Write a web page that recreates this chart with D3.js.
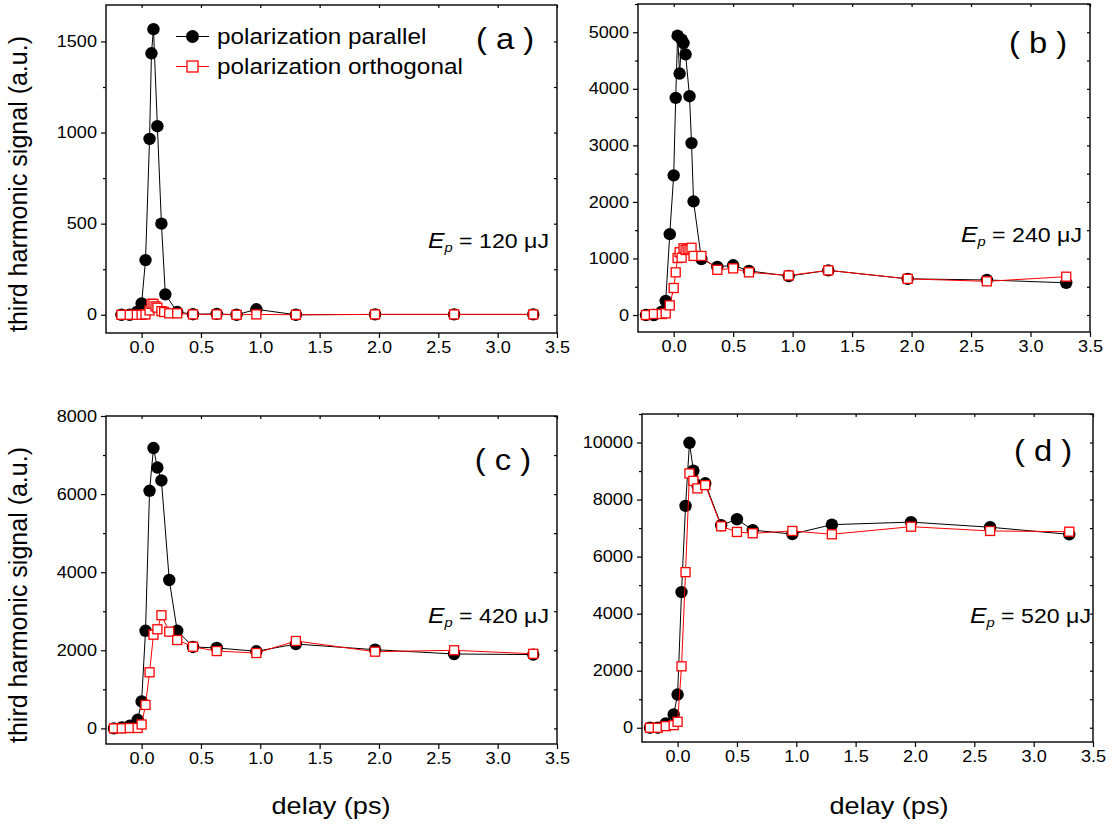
<!DOCTYPE html>
<html>
<head>
<meta charset="utf-8">
<script src="https://cdn.jsdelivr.net/npm/d3@7"></script>
<style>
  html, body { margin: 0; padding: 0; background: #fff; }
  svg { display: block; font-family: "Liberation Sans", Arial, sans-serif; }
</style>
</head>
<body>
<svg id="chart" width="1112" height="827"></svg>
<script>
// ---------------- DATA ----------------
const seriesNames = ["polarization parallel", "polarization orthogonal"];
const panelLabels = ["( a )", "( b )", "( c )", "( d )"];
const pulseEnergies = ["120", "240", "420", "520"];
const xTickValues = [0, 0.5, 1.0, 1.5, 2.0, 2.5, 3.0, 3.5];

// panel (a) Ep = 120 uJ
const delayA_par = [-0.17, -0.1, -0.04, 0.0, 0.033, 0.067, 0.083, 0.1, 0.133, 0.167, 0.2, 0.3, 0.433, 0.633, 0.8, 0.967, 1.3, 1.967, 2.633, 3.3];
const signalA_par = [0, 0, 15, 62, 300, 965, 1435, 1567, 1035, 500, 112, 15, 3, 5, 0, 30, 0, 2, 2, 2];
const delayA_ort = [-0.17, -0.1, -0.04, 0.0, 0.033, 0.067, 0.083, 0.1, 0.117, 0.133, 0.167, 0.19, 0.233, 0.3, 0.433, 0.633, 0.8, 0.967, 1.3, 1.967, 2.633, 3.3];
const signalA_ort = [0, 0, 0, 0, 2, 24, 60, 60, 46, 39, 20, 15, 8, 8, 2, 2, 0, 2, 0, 2, 2, 2];

// panel (b) Ep = 240 uJ
const delayB_par = [-0.233, -0.167, -0.1, -0.067, -0.033, 0.0, 0.017, 0.033, 0.05, 0.067, 0.083, 0.1, 0.133, 0.15, 0.167, 0.233, 0.367, 0.5, 0.633, 0.967, 1.3, 1.967, 2.633, 3.3];
const signalB_par = [0, 0, 60, 250, 1430, 2470, 3840, 4940, 4270, 4870, 4810, 4610, 3870, 3040, 2010, 990, 850, 880, 780, 690, 790, 640, 620, 570];
const delayB_ort = [-0.233, -0.167, -0.1, -0.067, -0.033, 0.0, 0.017, 0.033, 0.05, 0.067, 0.083, 0.1, 0.117, 0.133, 0.15, 0.167, 0.233, 0.367, 0.5, 0.633, 0.967, 1.3, 1.967, 2.633, 3.3];
const signalB_ort = [0, 18, 18, 29, 171, 478, 755, 1008, 1110, 1014, 1180, 1150, 1165, 1160, 1190, 1045, 1045, 800, 825, 755, 700, 790, 640, 596, 678];

// panel (c) Ep = 420 uJ
const delayC = [-0.233, -0.167, -0.1, -0.033, 0.0, 0.033, 0.067, 0.1, 0.133, 0.167, 0.233, 0.3, 0.433, 0.633, 0.967, 1.3, 1.967, 2.633, 3.3];
const signalC_par = [0, 25, 67, 220, 690, 2500, 6085, 7180, 6680, 6350, 3800, 2500, 2085, 2060, 1975, 2160, 2015, 1905, 1890];
const signalC_ort = [0, 0, 10, 10, 100, 600, 1436, 2400, 2538, 2897, 2477, 2263, 2090, 1980, 1930, 2238, 1964, 2000, 1910];

// panel (d) Ep = 520 uJ
const delayD = [-0.233, -0.167, -0.1, -0.033, 0.0, 0.033, 0.067, 0.1, 0.133, 0.167, 0.233, 0.367, 0.5, 0.633, 0.967, 1.3, 1.967, 2.633, 3.3];
const signalD_par = [0, 0, 150, 465, 1165, 4755, 7780, 9990, 9010, 8500, 8570, 7100, 7310, 6930, 6790, 7120, 7210, 7030, 6780];
const signalD_ort = [0, 0, 56, 91, 210, 2154, 5455, 8916, 8657, 8392, 8507, 7063, 6864, 6818, 6899, 6783, 7049, 6899, 6874];

const yTicksA = [0, 500, 1000, 1500];
const yTicksB = [0, 1000, 2000, 3000, 4000, 5000];
const yTicksC = [0, 2000, 4000, 6000, 8000];
const yTicksD = [0, 2000, 4000, 6000, 8000, 10000];

// ---------------- LAYOUT ----------------
const SX = 1.13; // horizontal stretch of the original typography
const svg = d3.select("#chart");
const zip = (xs, ys) => xs.map((d, i) => ({x: d, y: ys[i]}));

const panels = [
  {l: 106, r: 557, t: 5,   b: 333, yDom: [-100, 1700],  yTicks: yTicksA, yMinorStep: 250,
   par: zip(delayA_par, signalA_par), ort: zip(delayA_ort, signalA_ort),
   label: panelLabels[0], lx: 505, ly: 49, E: pulseEnergies[0], ex: 549, ey: 248, legend: true, yTitle: true},
  {l: 638, r: 1090, t: 4,  b: 332, yDom: [-300, 5500],  yTicks: yTicksB, yMinorStep: 500,
   par: zip(delayB_par, signalB_par), ort: zip(delayB_ort, signalB_ort),
   label: panelLabels[1], lx: 1038, ly: 53, E: pulseEnergies[1], ex: 1082, ey: 242},
  {l: 106, r: 557, t: 416, b: 744, yDom: [-400, 8000],  yTicks: yTicksC, yMinorStep: 1000,
   par: zip(delayC, signalC_par), ort: zip(delayC, signalC_ort),
   label: panelLabels[2], lx: 503, ly: 470, E: pulseEnergies[2], ex: 549, ey: 623, yTitle: true, xTitle: true},
  {l: 642, r: 1093, t: 414, b: 742, yDom: [-500, 11000], yTicks: yTicksD, yMinorStep: 1000,
   par: zip(delayD, signalD_par), ort: zip(delayD, signalD_ort),
   label: panelLabels[3], lx: 1043, ly: 461, E: pulseEnergies[3], ex: 1091, ey: 623, xTitle: true}
];

function styleAxis(sel) {
  sel.select(".domain").remove();
  sel.selectAll(".tick line").attr("stroke", "#000").attr("stroke-width", 1.2);
  sel.selectAll(".tick text").attr("fill", "#000").style("font-size", "16px");
}

panels.forEach(p => {
  const g = svg.append("g");
  const x = d3.scaleLinear().domain([-0.3, 3.5]).range([p.l, p.r]);
  const y = d3.scaleLinear().domain(p.yDom).range([p.b, p.t]);

  const minorY = d3.range(0, p.yDom[1] + 1, p.yMinorStep).filter(v => !p.yTicks.includes(v));
  const allY = d3.range(0, p.yDom[1] + 1, p.yMinorStep);

  // bottom axis (major, outward)
  const gx = g.append("g").attr("transform", `translate(0,${p.b})`)
    .call(d3.axisBottom(x).tickValues(xTickValues).tickSize(5).tickPadding(4).tickFormat(d3.format(".1f")));
  styleAxis(gx);
  gx.selectAll(".tick text").attr("transform", `scale(${SX},1)`);

  // top axis (inward small)
  const gt = g.append("g").attr("transform", `translate(0,${p.t})`)
    .call(d3.axisTop(x).tickValues(xTickValues).tickSize(-3).tickFormat(""));
  styleAxis(gt);

  // left axis major
  const gy = g.append("g").attr("transform", `translate(${p.l},0)`)
    .call(d3.axisLeft(y).tickValues(p.yTicks).tickSize(5).tickPadding(3).tickFormat(d3.format("d")));
  styleAxis(gy);
  gy.selectAll(".tick text").attr("transform", `scale(${SX},1)`);
  // left axis minor
  const gym = g.append("g").attr("transform", `translate(${p.l},0)`)
    .call(d3.axisLeft(y).tickValues(minorY).tickSize(3).tickFormat(""));
  styleAxis(gym);
  // right axis (inward small)
  const gr = g.append("g").attr("transform", `translate(${p.r},0)`)
    .call(d3.axisRight(y).tickValues(allY).tickSize(-3).tickFormat(""));
  styleAxis(gr);

  // frame
  g.append("rect").attr("x", p.l).attr("y", p.t).attr("width", p.r - p.l).attr("height", p.b - p.t)
    .attr("fill", "none").attr("stroke", "#000").attr("stroke-width", 1.4);

  const line = d3.line().x(d => x(d.x)).y(d => y(d.y));

  // parallel: black line + filled circles
  g.append("path").datum(p.par).attr("d", line).attr("fill", "none").attr("stroke", "#000").attr("stroke-width", 1);
  g.selectAll("circle.par").data(p.par).join("circle").attr("class", "par")
    .attr("cx", d => x(d.x)).attr("cy", d => y(d.y)).attr("r", 6.2).attr("fill", "#000");

  // orthogonal: red line + open squares
  g.append("path").datum(p.ort).attr("d", line).attr("fill", "none").attr("stroke", "#ff0000").attr("stroke-width", 1);
  g.selectAll("rect.ort").data(p.ort).join("rect").attr("class", "ort")
    .attr("x", d => x(d.x) - 4.5).attr("y", d => y(d.y) - 4.5).attr("width", 9).attr("height", 9)
    .attr("fill", "#fff").attr("stroke", "#ff0000").attr("stroke-width", 1.3);

  // panel label
  svg.append("text").attr("transform", `translate(${p.lx},${p.ly}) scale(${SX},1)`)
    .attr("text-anchor", "middle").style("font-size", "29px").attr("fill", "#000").text(p.label);

  // Ep label
  const et = svg.append("text").attr("transform", `translate(${p.ex},${p.ey}) scale(${SX},1)`)
    .attr("text-anchor", "end").style("font-size", "20.5px").attr("fill", "#000");
  et.append("tspan").style("font-style", "italic").style("font-size", "22px").text("E");
  et.append("tspan").style("font-style", "italic").style("font-size", "13px").attr("dy", 4).text("p");
  et.append("tspan").attr("dy", -4).text(` = ${p.E} \u03BCJ`);

  // legend
  if (p.legend) {
    const lg = svg.append("g");
    const rows = [{y: 36.5, name: seriesNames[0], kind: "par"}, {y: 66.5, name: seriesNames[1], kind: "ort"}];
    rows.forEach(r => {
      const col = r.kind === "par" ? "#000" : "#ff0000";
      lg.append("line").attr("x1", 176).attr("x2", 209).attr("y1", r.y).attr("y2", r.y).attr("stroke", col).attr("stroke-width", 1);
      if (r.kind === "par") {
        lg.append("circle").attr("cx", 192.5).attr("cy", r.y).attr("r", 6.5).attr("fill", "#000");
      } else {
        lg.append("rect").attr("x", 187).attr("y", r.y - 5.5).attr("width", 11).attr("height", 11)
          .attr("fill", "#fff").attr("stroke", "#ff0000").attr("stroke-width", 1.3);
      }
      lg.append("text").attr("transform", `translate(217,${r.y + 7.5}) scale(${SX},1)`)
        .style("font-size", "21.5px").attr("fill", "#000").text(r.name);
    });
  }

  if (p.yTitle) {
    svg.append("text").attr("transform", `translate(27,${(p.t + p.b) / 2 + 15}) rotate(-90)`)
      .attr("text-anchor", "middle").style("font-size", "25px").attr("fill", "#000")
      .text("third harmonic signal (a.u.)");
  }
  if (p.xTitle) {
    const cx = p.l < 300 ? 331 : 889;
    svg.append("text").attr("transform", `translate(${cx},814) scale(${SX},1)`)
      .attr("text-anchor", "middle").style("font-size", "24px").attr("fill", "#000")
      .text("delay (ps)");
  }
});
</script>
</body>
</html>
